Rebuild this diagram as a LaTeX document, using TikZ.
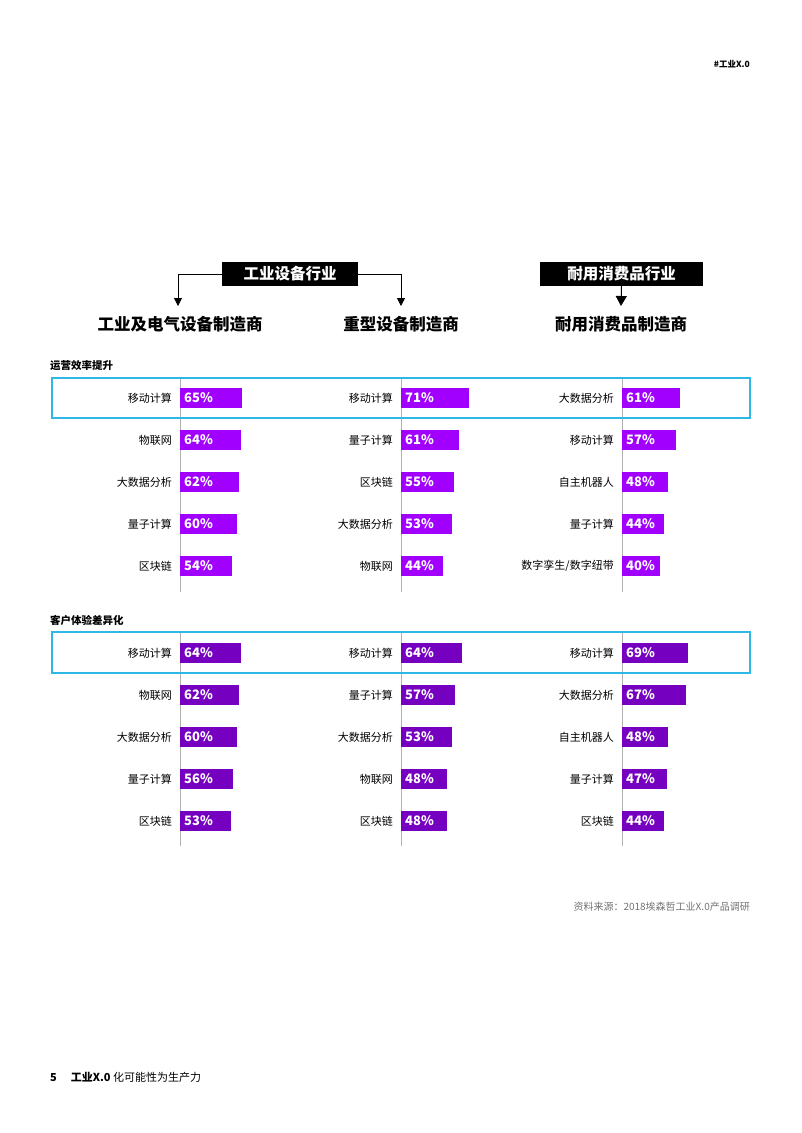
\documentclass[tikz,border=0pt]{standalone}
\usepackage{fontspec}
\setmainfont{Noto Sans CJK SC}
\usetikzlibrary{arrows.meta}
\definecolor{pA}{HTML}{A100FF}
\definecolor{pB}{HTML}{7500C0}
\definecolor{cy}{HTML}{2DB8E8}
\tikzset{
 lab/.style={anchor=east,font=\fontsize{11}{12}\selectfont,inner sep=0pt},
 pct/.style={anchor=west,font=\bfseries\fontsize{13}{14}\selectfont,text=white,inner sep=0pt},
 hbox/.style={fill=black,text=white,font=\bfseries\fontsize{15.5}{17}\selectfont,minimum height=24pt,inner sep=0pt},
 sub/.style={font=\bfseries\fontsize{16.5}{18}\selectfont,inner sep=0pt},
 sect/.style={anchor=west,font=\bfseries\fontsize{10.5}{12}\selectfont,inner sep=0pt},
 arr/.style={-{Triangle[length=8pt,width=8pt]},line width=0.8pt},
 arrb/.style={-{Triangle[length=10pt,width=11pt]},line width=1pt},
 axis/.style={draw=gray!60,line width=0.8pt},
 hl/.style={draw=cy,line width=1.5pt}
}
\newcommand{\brow}[6]{% x, y, label, pct, color, name
 \fill[#5] (#1,#2-10) rectangle ++(0.955*#4,20);
 \node[lab] (l#6) at (#1-8,#2) {#3};
 \node[pct] (p#6) at (#1+4,#2) {#4\%};
}
\begin{document}
\begin{tikzpicture}[x=1pt,y=-1pt]
\useasboundingbox (0,0) rectangle (802,1133);
\fill[white] (0,0) rectangle (802,1133);
\node[anchor=east,font=\bfseries\fontsize{8.5}{9}\selectfont,inner sep=0pt] (tag) at (750,64) {\#工业X.0};
% headers
\node[hbox,minimum width=136pt] (h1) at (290,274) {工业设备行业};
\node[hbox,minimum width=163pt] (h2) at (621.5,274) {耐用消费品行业};
\node[sub] (s1) at (180,324) {工业及电气设备制造商};
\node[sub] (s2) at (401,324) {重型设备制造商};
\node[sub] (s3) at (621,324) {耐用消费品制造商};
\coordinate (c1) at (178,306); \coordinate (c2) at (401,306); \coordinate (c3) at (621,306);
\draw[arr] (h1.west) -| (c1);
\draw[arr] (h1.east) -| (c2);
\draw[arrb] (h2.south) -- (c3);
% section 1
\node[sect] (t1) at (50,366) {运营效率提升};
\foreach \x in {180,401,622} \draw[axis] (\x,378) -- (\x,592);
\draw[hl] (52,378) rectangle (750,418);
\brow{180}{398}{移动计算}{65}{pA}{a1}
\brow{180}{440}{物联网}{64}{pA}{a2}
\brow{180}{482}{大数据分析}{62}{pA}{a3}
\brow{180}{524}{量子计算}{60}{pA}{a4}
\brow{180}{566}{区块链}{54}{pA}{a5}
\brow{401}{398}{移动计算}{71}{pA}{b1}
\brow{401}{440}{量子计算}{61}{pA}{b2}
\brow{401}{482}{区块链}{55}{pA}{b3}
\brow{401}{524}{大数据分析}{53}{pA}{b4}
\brow{401}{566}{物联网}{44}{pA}{b5}
\brow{622}{398}{大数据分析}{61}{pA}{c1}
\brow{622}{440}{移动计算}{57}{pA}{c2}
\brow{622}{482}{自主机器人}{48}{pA}{c3}
\brow{622}{524}{量子计算}{44}{pA}{c4}
\brow{622}{566}{数字孪生/数字纽带}{40}{pA}{c5}
% section 2
\node[sect] (t2) at (50,620) {客户体验差异化};
\foreach \x in {180,401,622} \draw[axis] (\x,632) -- (\x,846);
\draw[hl] (52,632) rectangle (750,673);
\brow{180}{653}{移动计算}{64}{pB}{d1}
\brow{180}{695}{物联网}{62}{pB}{d2}
\brow{180}{737}{大数据分析}{60}{pB}{d3}
\brow{180}{779}{量子计算}{56}{pB}{d4}
\brow{180}{821}{区块链}{53}{pB}{d5}
\brow{401}{653}{移动计算}{64}{pB}{e1}
\brow{401}{695}{量子计算}{57}{pB}{e2}
\brow{401}{737}{大数据分析}{53}{pB}{e3}
\brow{401}{779}{物联网}{48}{pB}{e4}
\brow{401}{821}{区块链}{48}{pB}{e5}
\brow{622}{653}{移动计算}{69}{pB}{f1}
\brow{622}{695}{大数据分析}{67}{pB}{f2}
\brow{622}{737}{自主机器人}{48}{pB}{f3}
\brow{622}{779}{量子计算}{47}{pB}{f4}
\brow{622}{821}{区块链}{44}{pB}{f5}
\node[anchor=east,font=\fontsize{10}{11}\selectfont,text=gray!90!black,inner sep=0pt] (src) at (750,907) {资料来源：2018埃森哲工业X.0产品调研};
\node[anchor=west,font=\fontsize{11}{12}\selectfont,inner sep=0pt] (foot) at (50,1077) {\textbf{5}\hspace{14pt}\textbf{工业X.0} 化可能性为生产力};
\end{tikzpicture}
\end{document}
